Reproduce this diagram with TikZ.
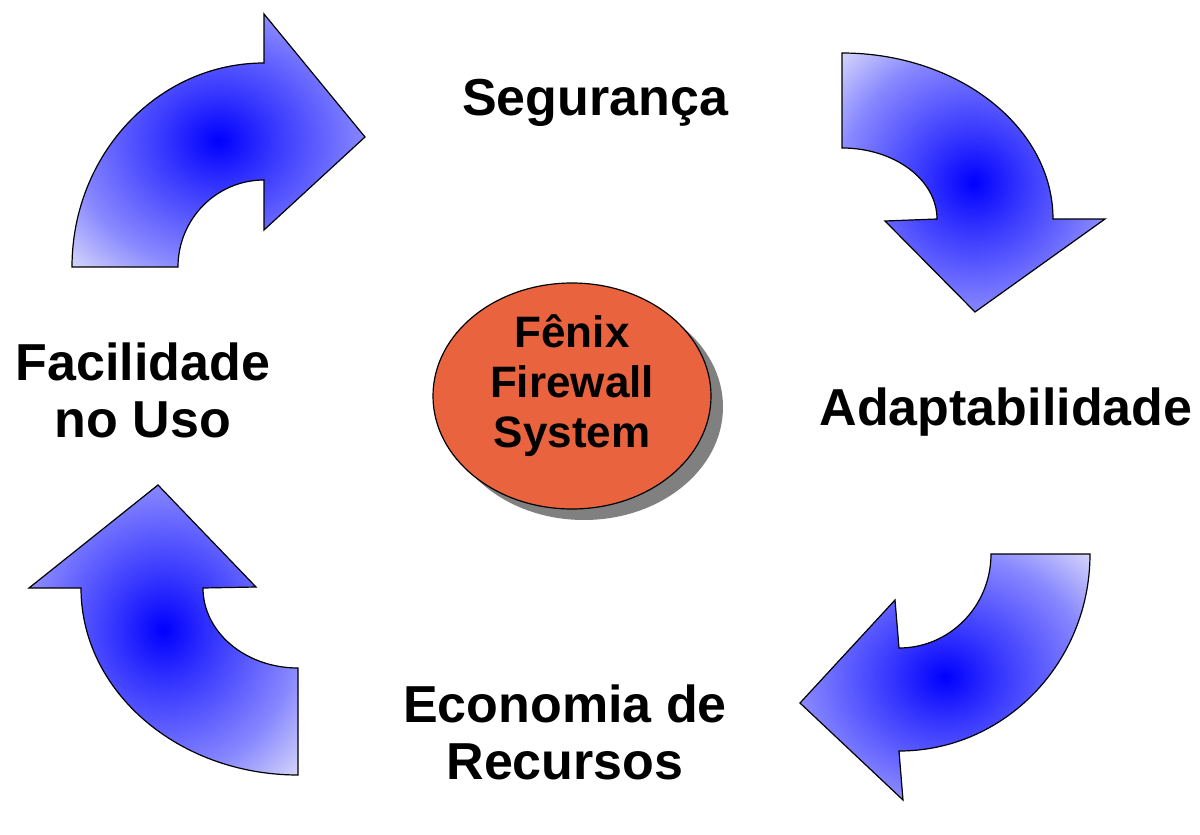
\documentclass[tikz,border=0pt]{standalone}
\usepackage{fontspec}
\setmainfont{Liberation Sans}
\usepackage{xcolor}
\usetikzlibrary{shapes.geometric,shadows}
\definecolor{hubfill}{HTML}{E9643E}
\definecolor{hubshadow}{HTML}{808080}
\definecolor{glowcore}{HTML}{0000FF}
\definecolor{glowmid}{HTML}{3434FF}
\definecolor{glowedge}{HTML}{8888FF}
\definecolor{glowrim}{HTML}{DADAFA}
\pgfdeclareradialshading{arrowglow}{\pgfpoint{0bp}{0bp}}{%
  color(0bp)=(glowcore); color(9bp)=(glowmid); color(25bp)=(glowedge);
  color(36bp)=(glowrim); color(50bp)=(glowrim)}
\tikzset{
  curved/.style={draw=black, line width=0.6pt, line join=miter, shade, shading=arrowglow},
  hub/.style={ellipse, draw=black, line width=0.6pt, fill=hubfill, inner sep=0pt,
    minimum width=139pt, minimum height=113pt,
    drop shadow={shadow xshift=6pt, shadow yshift=-5.5pt, fill=hubshadow, opacity=1}},
  hubtext/.style={font=\bfseries\fontsize{22}{25}\selectfont, align=center, inner sep=0pt},
  lab/.style={font=\bfseries\fontsize{26}{28.5}\selectfont, align=center, inner sep=0pt},
}
\begin{document}
\begin{tikzpicture}[x=0.5pt,y=-0.5pt]
  \useasboundingbox (0,0) rectangle (1200,835);

  % curved arrows, clockwise from top left
  \draw[curved] (264,14) -- (365,137) -- (264,230) -- (264,180)
    arc[start angle=270,end angle=180,x radius=86,y radius=87] -- (72,267)
    arc[start angle=180,end angle=270,x radius=192,y radius=204] -- cycle;
  \draw[curved] (842,53)
    arc[start angle=270,end angle=360,x radius=211,y radius=166]
    -- (1105,219) -- (975,312) -- (885,221) -- (937,219)
    arc[start angle=0,end angle=-90,x radius=95,y radius=71] -- cycle;
  \draw[curved] (991,554)
    arc[start angle=0,end angle=90,x radius=92,y radius=94]
    -- (895,600) -- (800,703) -- (903,800) -- (899,751)
    arc[start angle=90,end angle=0,x radius=191,y radius=197] -- cycle;
  \draw[curved] (298,775)
    arc[start angle=90,end angle=180,x radius=217,y radius=187]
    -- (29,588) -- (158,485) -- (256,587) -- (203,588)
    arc[start angle=180,end angle=90,x radius=95,y radius=80] -- cycle;

  % centre
  \node[hub] (hub) at (572,396) {};
  \node[hubtext] (hubname) at ([yshift=5pt]hub.center) {Fênix\\Firewall\\System};

  % labels
  \node[lab, anchor=base] (seg) at (595,115) {Segurança};
  \node[lab, anchor=base] (ada) at (1006,425) {Adaptabilidade};
  \node[lab] (fac) at (143,390) {Facilidade\\no Uso};
  \node[lab] (eco) at (565,732) {Economia de\\Recursos};
\end{tikzpicture}
\end{document}
